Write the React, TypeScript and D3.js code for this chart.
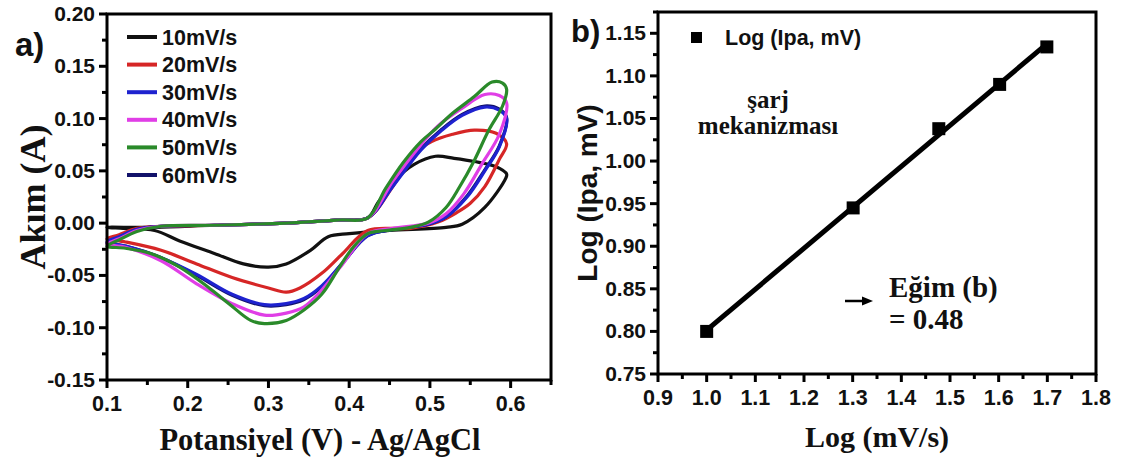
import React from "react";
import * as d3 from "d3";

// ---------- Panel a) data: cyclic voltammograms (potential V, current A) ----------
const scanRates = ["10mV/s", "20mV/s", "30mV/s", "40mV/s", "50mV/s", "60mV/s"];
const scanColors = ["#111111", "#d62626", "#1e22cf", "#e03ee6", "#2a8a2a", "#12126a"];

const cv10: [number, number][] = [
  [0.100, -0.004], [0.160, -0.004], [0.233, -0.002], [0.322, 0.000], [0.388, 0.003], [0.423, 0.005],
  [0.436, 0.020], [0.458, 0.042], [0.480, 0.056], [0.507, 0.064], [0.530, 0.062], [0.555, 0.059],
  [0.582, 0.054], [0.595, 0.047],
  [0.594, 0.043], [0.568, 0.015], [0.540, -0.001], [0.520, -0.004], [0.450, -0.007], [0.400, -0.010],
  [0.374, -0.013], [0.352, -0.026], [0.322, -0.039], [0.300, -0.042], [0.269, -0.039], [0.233, -0.029],
  [0.190, -0.017], [0.159, -0.007], [0.120, -0.005],
];
const cv20: [number, number][] = [
  [0.100, -0.015], [0.115, -0.011], [0.137, -0.005], [0.167, -0.003], [0.233, -0.002], [0.322, 0.000],
  [0.388, 0.003], [0.423, 0.005], [0.454, 0.035], [0.480, 0.066], [0.502, 0.078], [0.528, 0.085],
  [0.555, 0.089], [0.582, 0.086], [0.595, 0.076],
  [0.586, 0.061], [0.568, 0.035], [0.550, 0.019], [0.533, 0.010], [0.510, 0.001], [0.476, -0.005],
  [0.423, -0.007], [0.392, -0.029], [0.366, -0.048], [0.339, -0.062], [0.322, -0.066], [0.300, -0.062],
  [0.255, -0.052], [0.211, -0.039], [0.167, -0.026], [0.123, -0.018],
];
const cv30: [number, number][] = [
  [0.100, -0.018], [0.115, -0.013], [0.137, -0.006], [0.167, -0.003], [0.233, -0.002], [0.322, 0.000],
  [0.388, 0.003], [0.423, 0.005], [0.454, 0.035], [0.489, 0.070], [0.515, 0.089], [0.540, 0.103],
  [0.568, 0.111], [0.586, 0.108], [0.595, 0.100],
  [0.586, 0.073], [0.568, 0.050], [0.546, 0.025], [0.520, 0.006], [0.498, -0.001], [0.454, -0.006],
  [0.423, -0.012], [0.392, -0.038], [0.366, -0.060], [0.344, -0.072], [0.322, -0.077], [0.295, -0.078],
  [0.255, -0.068], [0.211, -0.049], [0.167, -0.033], [0.123, -0.022],
];
const cv40: [number, number][] = [
  [0.100, -0.020], [0.115, -0.015], [0.137, -0.007], [0.167, -0.003], [0.233, -0.002], [0.322, 0.000],
  [0.388, 0.003], [0.423, 0.005], [0.454, 0.040], [0.489, 0.075], [0.510, 0.093], [0.540, 0.110],
  [0.568, 0.123], [0.586, 0.122], [0.595, 0.115],
  [0.586, 0.085], [0.564, 0.056], [0.542, 0.028], [0.520, 0.009], [0.498, 0.000], [0.454, -0.005],
  [0.423, -0.010], [0.392, -0.039], [0.366, -0.064], [0.344, -0.080], [0.322, -0.086], [0.295, -0.088],
  [0.255, -0.077], [0.211, -0.058], [0.167, -0.036], [0.123, -0.023],
];
const cv50: [number, number][] = [
  [0.100, -0.022], [0.115, -0.016], [0.137, -0.008], [0.167, -0.003], [0.233, -0.002], [0.322, 0.000],
  [0.388, 0.003], [0.423, 0.005], [0.445, 0.033], [0.467, 0.058], [0.489, 0.078], [0.507, 0.090],
  [0.528, 0.105], [0.555, 0.121], [0.577, 0.135], [0.590, 0.134], [0.595, 0.128],
  [0.590, 0.112], [0.573, 0.089], [0.555, 0.060], [0.537, 0.035], [0.520, 0.015], [0.498, 0.001],
  [0.476, -0.004], [0.445, -0.007], [0.423, -0.010], [0.405, -0.023], [0.388, -0.042], [0.366, -0.068],
  [0.344, -0.083], [0.322, -0.093], [0.295, -0.096], [0.278, -0.093], [0.251, -0.077], [0.225, -0.061],
  [0.190, -0.042], [0.154, -0.029], [0.123, -0.024],
];
const cv60: [number, number][] = [
  [0.100, -0.019], [0.115, -0.014], [0.137, -0.006], [0.167, -0.003], [0.233, -0.002], [0.322, 0.000],
  [0.388, 0.003], [0.423, 0.005], [0.454, 0.036], [0.489, 0.071], [0.515, 0.090], [0.540, 0.104],
  [0.568, 0.112], [0.586, 0.109], [0.595, 0.101],
  [0.586, 0.074], [0.568, 0.051], [0.546, 0.026], [0.520, 0.006], [0.498, -0.001], [0.454, -0.006],
  [0.423, -0.012], [0.392, -0.038], [0.366, -0.061], [0.344, -0.073], [0.322, -0.078], [0.295, -0.079],
  [0.255, -0.069], [0.211, -0.050], [0.167, -0.033], [0.123, -0.022],
];
const cvCurves = [cv10, cv20, cv30, cv40, cv50, cv60];
const drawOrder = [0, 1, 5, 2, 3, 4];

// ---------- Panel b) data ----------
const logScanRate = [1.0, 1.301, 1.477, 1.602, 1.699];
const logIpa = [0.800, 0.945, 1.038, 1.090, 1.134];

const W = 1124;
const H = 469;

// scales panel a
const xA = d3.scaleLinear().domain([0.1, 0.65]).range([107, 551]);
const yA = d3.scaleLinear().domain([-0.15, 0.2]).range([380, 14]);
// scales panel b
const xB = d3.scaleLinear().domain([0.9, 1.8]).range([658, 1096]);
const yB = d3.scaleLinear().domain([0.75, 1.175]).range([374, 12]);

const sans = "'Liberation Sans', Arial, sans-serif";
const serif = "'Liberation Serif', 'Times New Roman', serif";

function frange(a: number, b: number, step: number) {
  const n = Math.round((b - a) / step);
  return d3.range(n + 1).map((i) => +(a + i * step).toFixed(6));
}

function Axes({ x, y, xMaj, xMin, yMaj, yMin, xFmt, yFmt }: any) {
  const [x0, x1] = x.range();
  const [y0, y1] = y.range();
  return (
    <g>
      <rect x={x0} y={y1} width={x1 - x0} height={y0 - y1} fill="none" stroke="#000" strokeWidth={3} />
      {xMin.map((v: number) => (
        <line key={"xm" + v} x1={x(v)} x2={x(v)} y1={y0} y2={y0 + 5} stroke="#000" strokeWidth={3} />
      ))}
      {xMaj.map((v: number) => (
        <g key={"xM" + v}>
          <line x1={x(v)} x2={x(v)} y1={y0} y2={y0 + 8} stroke="#000" strokeWidth={3} />
          <text x={x(v)} y={y0 + 31} textAnchor="middle" fontFamily={sans} fontWeight="bold" fontSize={21.5} fill="#111">
            {xFmt(v)}
          </text>
        </g>
      ))}
      {yMin.map((v: number) => (
        <line key={"ym" + v} x1={x0 - 5} x2={x0} y1={y(v)} y2={y(v)} stroke="#000" strokeWidth={3} />
      ))}
      {yMaj.map((v: number) => (
        <g key={"yM" + v}>
          <line x1={x0 - 8} x2={x0} y1={y(v)} y2={y(v)} stroke="#000" strokeWidth={3} />
          <text x={x0 - 12} y={y(v) + 7} textAnchor="end" fontFamily={sans} fontWeight="bold" fontSize={21} fill="#111">
            {yFmt(v)}
          </text>
        </g>
      ))}
    </g>
  );
}

export default function App() {
  const cvLine = d3
    .line<[number, number]>()
    .x((d) => xA(d[0]))
    .y((d) => yA(d[1]))
    .curve(d3.curveCatmullRomClosed.alpha(0.5));

  // least squares fit for panel b
  const mx = d3.mean(logScanRate)!;
  const my = d3.mean(logIpa)!;
  const slope =
    d3.sum(logScanRate.map((v, i) => (v - mx) * (logIpa[i] - my))) /
    d3.sum(logScanRate.map((v) => (v - mx) * (v - mx)));
  const intercept = my - slope * mx;
  const fitX = [logScanRate[0], logScanRate[logScanRate.length - 1]];
  const fitLine = d3
    .line<number>()
    .x((v) => xB(v))
    .y((v) => yB(intercept + slope * v));

  return (
    <svg width={W} height={H} style={{ position: "absolute", left: 0, top: 0, background: "#fff" }}>
      <rect x={0} y={0} width={W} height={H} fill="#fff" />

      {/* ---------------- Panel a ---------------- */}
      <g>
        {drawOrder.map((k) => (
          <path key={k} d={cvLine(cvCurves[k]) || ""} fill="none" stroke={scanColors[k]} strokeWidth={3.2} strokeLinejoin="round" />
        ))}
        <Axes
          x={xA}
          y={yA}
          xMaj={frange(0.1, 0.6, 0.1)}
          xMin={frange(0.15, 0.65, 0.1)}
          yMaj={frange(-0.15, 0.2, 0.05)}
          yMin={frange(-0.125, 0.175, 0.05)}
          xFmt={d3.format(".1f")}
          yFmt={(v: number) => d3.format(".2f")(v).replace("−", "-")}
        />
        {scanRates.map((s, i) => (
          <g key={s}>
            <line x1={127} x2={157} y1={37 + i * 27.6} y2={37 + i * 27.6} stroke={scanColors[i]} strokeWidth={4} />
            <text x={162} y={37 + i * 27.6 + 7.5} fontFamily={sans} fontWeight="bold" fontSize={21.5} fill="#111">
              {s}
            </text>
          </g>
        ))}
        <text x={15} y={56} fontFamily={sans} fontWeight="bold" fontSize={33} fill="#111">a)</text>
        <text
          transform={`translate(45,${(14 + 380) / 2}) rotate(-90)`}
          textAnchor="middle"
          fontFamily={serif}
          fontWeight="bold"
          fontSize={36}
          fill="#111"
        >
          Akım (A)
        </text>
        <text x={320} y={450} textAnchor="middle" fontFamily={serif} fontWeight="bold" fontSize={30.5} fill="#111">
          Potansiyel (V) - Ag/AgCl
        </text>
      </g>

      {/* ---------------- Panel b ---------------- */}
      <g>
        <path d={fitLine(fitX) || ""} fill="none" stroke="#000" strokeWidth={5} />
        {logScanRate.map((v, i) => (
          <rect key={i} x={xB(v) - 6.5} y={yB(logIpa[i]) - 6.5} width={13} height={13} fill="#000" />
        ))}
        <Axes
          x={xB}
          y={yB}
          xMaj={frange(0.9, 1.8, 0.1)}
          xMin={frange(0.95, 1.75, 0.1)}
          yMaj={frange(0.75, 1.15, 0.05)}
          yMin={frange(0.775, 1.175, 0.05)}
          xFmt={d3.format(".1f")}
          yFmt={d3.format(".2f")}
        />
        <rect x={691} y={32} width={11} height={11} fill="#000" />
        <text x={725} y={45} fontFamily={sans} fontWeight="bold" fontSize={21.5} fill="#111">Log (Ipa, mV)</text>
        <text x={768} y={108} textAnchor="middle" fontFamily={serif} fontWeight="bold" fontSize={25} fill="#111">şarj</text>
        <text x={768} y={134} textAnchor="middle" fontFamily={serif} fontWeight="bold" fontSize={25} fill="#111">mekanizması</text>
        <text x={889} y={297} fontFamily={serif} fontWeight="bold" fontSize={29} fill="#111">Eğim (b)</text>
        <text x={889} y={329} fontFamily={serif} fontWeight="bold" fontSize={29} fill="#111">= 0.48</text>
        <line x1={845} x2={864} y1={301} y2={301} stroke="#000" strokeWidth={2.5} />
        <path d="M862,296.5 L873,301 L862,305.5 Z" fill="#000" />
        <text x={571} y={42} fontFamily={sans} fontWeight="bold" fontSize={31} fill="#111">b)</text>
        <text
          transform={`translate(597,${(12 + 374) / 2}) rotate(-90)`}
          textAnchor="middle"
          fontFamily={sans}
          fontWeight="bold"
          fontSize={28}
          fill="#111"
        >
          Log (Ipa, mV)
        </text>
        <text x={877} y={447} textAnchor="middle" fontFamily={serif} fontWeight="bold" fontSize={30} fill="#111">
          Log (mV/s)
        </text>
      </g>
    </svg>
  );
}
